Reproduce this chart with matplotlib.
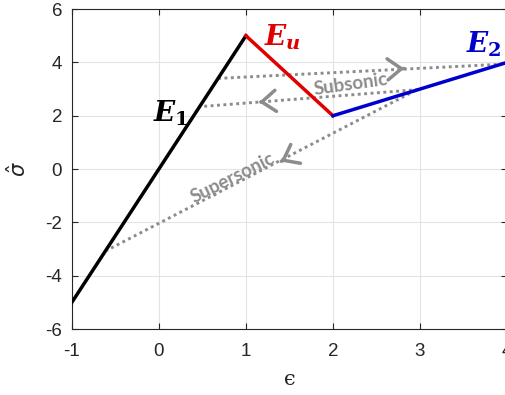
import numpy as np
import matplotlib.pyplot as plt

# piecewise stress-strain branches
e1_x = [-1, 1]
e1_y = [-5, 5]
eu_x = [1, 2]
eu_y = [5, 2]
e2_x = [2, 4]
e2_y = [2, 4]

# dotted wave paths (start, end) and where the chevron sits
wave_x = [[0.68, 3.93], [2.98, 0.47], [2.95, -0.60]]
wave_y = [[3.40, 3.93], [2.98, 2.34], [2.95, -3.05]]
head_x = [2.82, 1.15, 1.40]
head_y = [3.77, 2.51, 0.28]

gray = '#8c8c8c'
ink = '#262626'

plt.rcParams['axes.unicode_minus'] = False
plt.rcParams['font.family'] = ['Liberation Sans', 'DejaVu Sans']
plt.rcParams['mathtext.it'] = 'DejaVu Serif:italic:bold'
plt.rcParams['mathtext.rm'] = 'DejaVu Serif:bold'
plt.rcParams['mathtext.bf'] = 'DejaVu Serif:bold'

fig = plt.figure(figsize=(5.06, 3.95), dpi=100)
ax = fig.add_axes([0.142, 0.167, 0.860, 0.810])

ax.plot(e1_x, e1_y, color='black', lw=2.5, zorder=3)
ax.plot(eu_x, eu_y, color='#e00000', lw=2.5, zorder=3)
ax.plot(e2_x, e2_y, color='#0000cc', lw=2.5, zorder=3)

for wx, wy, hx, hy in zip(wave_x, wave_y, head_x, head_y):
    ax.plot(wx, wy, color=gray, lw=2.1, ls=(0, (1, 1.2)), zorder=2)
    dx = wx[1] - wx[0]
    dy = wy[1] - wy[0]
    ax.annotate('', xy=(hx, hy), xytext=(hx - 0.01 * dx, hy - 0.01 * dy),
                arrowprops=dict(arrowstyle='->,head_length=0.5,head_width=0.38',
                                color=gray, lw=2.5, mutation_scale=20),
                zorder=2)

lab = dict(fontsize=20, ha='left', va='baseline', math_fontfamily='custom')
ax.text(-0.07, 1.77, r'$E_1$', color='black', **lab)
ax.text(1.21, 4.65, r'$E_u$', color='#e00000', **lab)
ax.text(3.53, 4.39, r'$E_2$', color='#0000cc', **lab)

ax.text(2.2, 3.17, 'Subsonic', color=gray, fontsize=13.5, family='Lato',
        weight='bold', rotation=8, ha='center', va='center')
ax.text(0.85, -0.34, 'Supersonic', color=gray, fontsize=13.5, family='Lato',
        weight='bold', rotation=26.6, ha='center', va='center')

ax.set_xlim(-1, 4)
ax.set_ylim(-6, 6)
ax.set_xticks(np.arange(-1, 5))
ax.set_yticks(np.arange(-6, 7, 2))
ax.grid(True, color='#e3e3e3', lw=0.8)
ax.set_axisbelow(True)
ax.tick_params(direction='in', length=4, width=0.8, colors=ink,
               labelsize=13.5, top=True, right=True)
ax.tick_params(axis='x', pad=10)
ax.tick_params(axis='y', pad=7)
for s in ax.spines.values():
    s.set_color(ink)
    s.set_linewidth(0.8)

ax.set_xlabel('ϵ', fontsize=15, color=ink, family='DejaVu Serif', labelpad=7)
ax.set_ylabel(r'$\hat{\sigma}$', fontsize=15, color=ink)
ax.yaxis.set_label_coords(-0.097, 0.5)

fig.savefig('out.png', dpi=100)
